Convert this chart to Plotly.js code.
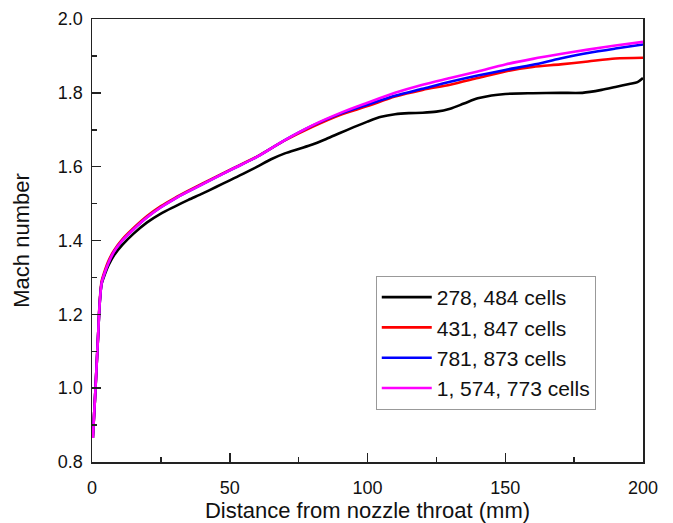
<!DOCTYPE html>
<html>
<head>
<meta charset="utf-8">
<script src="https://cdn.plot.ly/plotly-3.0.1.min.js"></script>
<style>html,body{margin:0;padding:0;background:#fff}#chart{width:673px;height:523px}</style>
</head>
<body>
<div id="chart"></div>
<script>
// Series 1: 278, 484 cells
var x1 = [0.3, 1, 1.6, 2.2, 2.8, 3.5, 4.5, 6, 8, 11, 15, 20, 25, 30, 35, 40, 45, 50, 55, 60, 65, 70, 75, 80, 85, 90, 95, 100, 105, 110, 115, 120, 125, 130, 135, 140, 145, 150, 160, 170, 178, 185, 190, 195, 198, 200];
var y1 = [0.865, 0.96, 1.05, 1.14, 1.23, 1.283, 1.305, 1.333, 1.36, 1.388, 1.418, 1.449, 1.473, 1.492, 1.510, 1.527, 1.545, 1.563, 1.581, 1.600, 1.620, 1.636, 1.648, 1.660, 1.675, 1.691, 1.707, 1.722, 1.735, 1.742, 1.745, 1.746, 1.749, 1.757, 1.771, 1.785, 1.793, 1.797, 1.799, 1.800, 1.800, 1.808, 1.816, 1.824, 1.829, 1.840];
// Series 2: 431, 847 cells
var x2 = [0.3, 1, 1.6, 2.2, 2.8, 3.5, 4.5, 6, 8, 11, 15, 20, 25, 30, 35, 40, 50, 60, 70, 80, 90, 100, 110, 120, 130, 140, 150, 160, 170, 180, 190, 200];
var y2 = [0.865, 0.96, 1.05, 1.14, 1.235, 1.29, 1.315, 1.345, 1.373, 1.403, 1.433, 1.466, 1.493, 1.515, 1.535, 1.554, 1.591, 1.628, 1.671, 1.708, 1.740, 1.764, 1.790, 1.808, 1.822, 1.840, 1.858, 1.870, 1.877, 1.885, 1.893, 1.895];
// Series 3: 781, 873 cells
var x3 = [0.3, 1, 1.6, 2.2, 2.8, 3.5, 4.5, 6, 8, 11, 15, 20, 25, 30, 35, 40, 50, 60, 70, 80, 90, 100, 110, 120, 130, 140, 150, 160, 170, 180, 190, 200];
var y3 = [0.865, 0.96, 1.05, 1.14, 1.23, 1.285, 1.31, 1.34, 1.37, 1.40, 1.43, 1.463, 1.49, 1.513, 1.533, 1.552, 1.590, 1.627, 1.672, 1.711, 1.743, 1.768, 1.792, 1.811, 1.830, 1.847, 1.862, 1.876, 1.893, 1.908, 1.920, 1.931];
// Series 4: 1, 574, 773 cells
var x4 = [0.3, 1, 1.6, 2.2, 2.8, 3.5, 4.5, 6, 8, 11, 15, 20, 25, 30, 35, 40, 50, 60, 70, 80, 90, 100, 110, 120, 130, 140, 150, 160, 170, 180, 190, 200];
var y4 = [0.865, 0.96, 1.05, 1.14, 1.23, 1.285, 1.31, 1.34, 1.37, 1.40, 1.43, 1.463, 1.49, 1.513, 1.533, 1.552, 1.590, 1.627, 1.672, 1.712, 1.745, 1.773, 1.800, 1.822, 1.840, 1.858, 1.877, 1.892, 1.905, 1.917, 1.928, 1.938];

var names = ['278, 484 cells', '431, 847 cells', '781, 873 cells', '1, 574, 773 cells'];
var colors = ['#000000', '#ff0000', '#0000ff', '#ff00ff'];
var xs = [x1, x2, x3, x4];
var ys = [y1, y2, y3, y4];

var traces = names.map(function (n, i) {
  return {
    x: xs[i], y: ys[i], name: n, type: 'scatter', mode: 'lines',
    line: {color: colors[i], width: 2.6, shape: 'spline', smoothing: 0.8}
  };
});

var font = 'Arial, "Liberation Sans", sans-serif';
var axisCommon = {
  showgrid: false, zeroline: false,
  showline: true, linecolor: '#222', linewidth: 1.5, mirror: true,
  ticks: 'inside', ticklen: 9, tickwidth: 1.5, tickcolor: '#222',
  tickfont: {family: font, size: 18, color: '#111'}
};

var layout = {
  width: 673, height: 523,
  margin: {l: 92, r: 30, t: 19, b: 61},
  paper_bgcolor: '#fff', plot_bgcolor: '#fff',
  showlegend: true,
  xaxis: Object.assign({}, axisCommon, {
    range: [0, 200], tickvals: [0, 50, 100, 150, 200],
    ticklabelstandoff: 9,
    minor: {tickvals: [25, 75, 125, 175], ticks: 'inside', ticklen: 5, tickwidth: 1.5, tickcolor: '#222'},
    title: {text: 'Distance from nozzle throat (mm)', font: {family: font, size: 22, color: '#111'}, standoff: 3}
  }),
  yaxis: Object.assign({}, axisCommon, {
    range: [0.8, 2.0], tickvals: [0.8, 1.0, 1.2, 1.4, 1.6, 1.8, 2.0], ticktext: ['0.8', '1.0', '1.2', '1.4', '1.6', '1.8', '2.0'],
    ticklabelstandoff: 4,
    minor: {tickvals: [0.9, 1.1, 1.3, 1.5, 1.7, 1.9], ticks: 'inside', ticklen: 5, tickwidth: 1.5, tickcolor: '#222'},
    title: {text: 'Mach number', font: {family: font, size: 22, color: '#111'}, standoff: 22}
  }),
  legend: {
    x: 0.515, y: 0.42, xanchor: 'left', yanchor: 'top',
    bordercolor: '#999', borderwidth: 1, bgcolor: '#fff',
    font: {family: font, size: 21, color: '#111'},
    itemwidth: 50, tracegroupgap: 0
  }
};

Plotly.newPlot('chart', traces, layout, {staticPlot: true, displayModeBar: false});
</script>
</body>
</html>
